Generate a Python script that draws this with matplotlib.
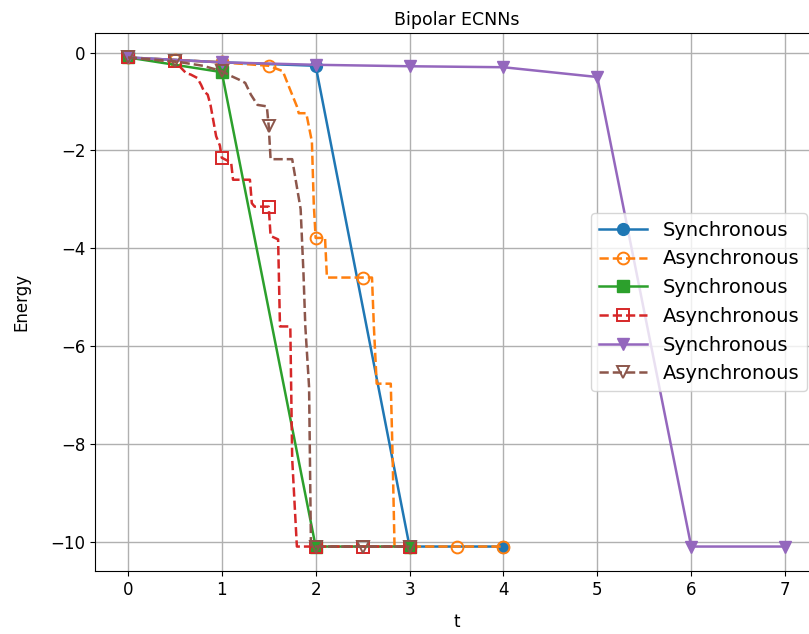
import matplotlib
matplotlib.use("Agg")
import matplotlib.pyplot as plt

# synchronous runs: energy sampled once per epoch
T_SYNC_A = [0, 1, 2, 3, 4]
E_SYNC_A = [-0.10, -0.20, -0.27, -10.10, -10.10]
T_SYNC_B = [0, 1, 2, 3]
E_SYNC_B = [-0.10, -0.40, -10.10, -10.10]
T_SYNC_C = [0, 1, 2, 3, 4, 5, 6, 7]
E_SYNC_C = [-0.10, -0.20, -0.25, -0.28, -0.30, -0.50, -10.10, -10.10]

# asynchronous runs: energy traced along the update sequence
T_ASYNC_A = [0.0, 0.5, 1.0, 1.5, 1.65, 1.72, 1.8, 1.82, 1.9, 1.96, 1.98, 2.0,
             2.1, 2.12, 2.5, 2.6, 2.62, 2.65, 2.8, 2.82, 2.84, 3.0, 3.5, 4.0]
E_ASYNC_A = [-0.10, -0.15, -0.20, -0.27, -0.38, -0.72, -1.10, -1.24, -1.24, -1.82, -3.10, -3.79,
             -3.79, -4.60, -4.60, -4.60, -5.60, -6.77, -6.77, -8.30, -10.10, -10.10, -10.10, -10.10]
T_ASYNC_B = [0.0, 0.5, 0.62, 0.67, 0.74, 0.78, 0.81, 0.85, 0.88, 0.94, 0.98, 1.0,
             1.1, 1.12, 1.3, 1.32, 1.35, 1.5, 1.52, 1.6, 1.62, 1.73, 1.75, 1.8,
             2.0, 2.5, 3.0]
E_ASYNC_B = [-0.10, -0.18, -0.42, -0.45, -0.52, -0.66, -0.79, -0.86, -1.07, -1.71, -1.90, -2.15,
             -2.25, -2.60, -2.60, -3.08, -3.15, -3.15, -3.75, -3.82, -5.60, -5.60, -8.30, -10.10,
             -10.10, -10.10, -10.10]
T_ASYNC_C = [0.0, 0.5, 0.8, 1.0, 1.1, 1.18, 1.25, 1.31, 1.38, 1.48, 1.5, 1.52,
             1.75, 1.84, 1.87, 1.89, 1.93, 1.95, 2.0, 2.5, 3.0]
E_ASYNC_C = [-0.10, -0.18, -0.27, -0.38, -0.48, -0.55, -0.62, -0.86, -1.07, -1.10, -1.50, -2.18,
             -2.18, -3.20, -4.50, -5.60, -6.84, -10.10, -10.10, -10.10, -10.10]

LABEL_SYNC = "Synchronous"
LABEL_ASYNC = "Asynchronous"


def half_marks(ts):
    # markers only at multiples of 0.5 epoch
    return [i for i, t in enumerate(ts) if abs(t * 2 - round(t * 2)) < 1e-9]


def main():
    fig = plt.figure(figsize=(8.09, 6.34), dpi=100)
    ax = fig.add_axes([95 / 809, 63 / 634, 723 / 809, 538 / 634])

    ms, lw = 8.5, 1.8
    ax.plot(T_SYNC_A, E_SYNC_A, "-o", color="C0", ms=ms, lw=lw, label=LABEL_SYNC)
    ax.plot(T_ASYNC_A, E_ASYNC_A, "--o", color="C1", ms=ms, lw=lw, mfc="none",
            mew=1.4, markevery=half_marks(T_ASYNC_A), label=LABEL_ASYNC)
    ax.plot(T_SYNC_B, E_SYNC_B, "-s", color="C2", ms=ms, lw=lw, label=LABEL_SYNC)
    ax.plot(T_ASYNC_B, E_ASYNC_B, "--s", color="C3", ms=ms, lw=lw, mfc="none",
            mew=1.4, markevery=half_marks(T_ASYNC_B), label=LABEL_ASYNC)
    ax.plot(T_SYNC_C, E_SYNC_C, "-v", color="C4", ms=ms, lw=lw, label=LABEL_SYNC)
    ax.plot(T_ASYNC_C, E_ASYNC_C, "--v", color="C5", ms=ms, lw=lw, mfc="none",
            mew=1.4, markevery=half_marks(T_ASYNC_C), label=LABEL_ASYNC)

    ax.set_xlim(-0.35, 7.35)
    ax.set_ylim(-10.6, 0.4)
    ax.set_xticks(range(8))
    ax.tick_params(labelsize=12)
    ax.grid(True, lw=1.0)
    ax.set_xlabel("t", fontsize=12, labelpad=10)
    ax.set_ylabel("Energy", fontsize=12, labelpad=14)
    ax.set_title("Bipolar ECNNs", fontsize=12.5)
    ax.legend(loc="center right", bbox_to_anchor=(0.985, 0.5), borderaxespad=0,
              fontsize=14, handlelength=2.5, framealpha=0.8)

    fig.savefig("out.png", dpi=100)


if __name__ == "__main__":
    main()
